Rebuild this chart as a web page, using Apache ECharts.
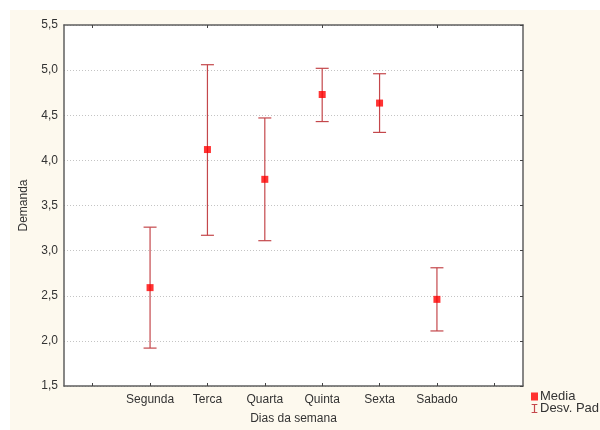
<!DOCTYPE html>
<html>
<head>
<meta charset="utf-8">
<script src="https://cdn.jsdelivr.net/npm/echarts@6/dist/echarts.min.js"></script>
<style>
html,body{margin:0;padding:0;background:#ffffff;}
#chart{position:absolute;left:10px;top:10px;width:590px;height:420px;background:#fdf9ee;}
</style>
</head>
<body>
<div id="chart"></div>
<script>
const days = ['Segunda', 'Terca', 'Quarta', 'Quinta', 'Sexta', 'Sabado'];
const means = [2.59, 4.12, 3.79, 4.73, 4.635, 2.46];
const lowerSD = [1.92, 3.17, 3.11, 4.43, 4.31, 2.11];
const upperSD = [3.26, 5.06, 4.47, 5.02, 4.96, 2.81];
const yTicks = [1.5, 2.0, 2.5, 3.0, 3.5, 4.0, 4.5, 5.0, 5.5];

const cats = [''].concat(days).concat(['']);
const meanData = ['-'].concat(means).concat(['-']);
const errData = days.map((d, i) => [i + 1, lowerSD[i], upperSD[i]]);

const FONT = 'Liberation Sans, Arial, sans-serif';
const AXIS_COLOR = '#5f5f5f';
const ERR_COLOR = '#c4474b';

const chart = echarts.init(document.getElementById('chart'), null, {renderer: 'canvas'});

function renderErr(params, api) {
  const x = api.value(0);
  const lo = api.coord([x, api.value(1)]);
  const hi = api.coord([x, api.value(2)]);
  const hw = 6.5;
  const style = {stroke: ERR_COLOR, lineWidth: 1.2, fill: null};
  return {
    type: 'group',
    children: [
      {type: 'line', shape: {x1: lo[0], y1: lo[1], x2: hi[0], y2: hi[1]}, style: style},
      {type: 'line', shape: {x1: lo[0] - hw, y1: lo[1], x2: lo[0] + hw, y2: lo[1]}, style: style},
      {type: 'line', shape: {x1: hi[0] - hw, y1: hi[1], x2: hi[0] + hw, y2: hi[1]}, style: style}
    ]
  };
}

const option = {
  animation: false,
  backgroundColor: 'transparent',
  textStyle: {fontFamily: FONT},
  grid: {left: 50, top: 15, width: 463, height: 365, show: true, backgroundColor: '#ffffff', borderWidth: 0},
  legend: {
    orient: 'vertical',
    left: 521,
    top: 380,
    itemGap: -1,
    itemWidth: 7,
    itemHeight: 8,
    padding: [0, 0, 0, 0],
    textStyle: {fontFamily: FONT, fontSize: 13, color: '#333333', padding: [0, 0, 0, -3]},
    data: [
      {name: 'Media', icon: 'rect', itemStyle: {color: '#ff0000'}},
      {name: 'Desv. Pad', icon: 'path://M0,0 L10,0 M5,0 L5,14 M0,14 L10,14', itemStyle: {color: 'transparent', borderColor: ERR_COLOR, borderWidth: 1.2}}
    ]
  },
  xAxis: [
    {
      type: 'category',
      data: cats,
      position: 'bottom',
      boundaryGap: true,
      name: 'Dias da semana',
      nameLocation: 'middle',
      nameGap: 27,
      nameTextStyle: {fontFamily: FONT, fontSize: 12, color: '#333333'},
      axisLine: {show: true, lineStyle: {color: AXIS_COLOR, width: 1.5}},
      axisTick: {show: true, inside: true, alignWithLabel: true, length: 3, lineStyle: {color: '#444444'}},
      axisLabel: {fontFamily: FONT, fontSize: 12, color: '#333333', margin: 8, interval: 0},
      splitLine: {show: false}
    },
    {
      type: 'category',
      data: cats,
      position: 'top',
      boundaryGap: true,
      axisLine: {show: true, lineStyle: {color: AXIS_COLOR, width: 1.5}},
      axisTick: {show: true, inside: true, alignWithLabel: true, length: 3, lineStyle: {color: '#444444'}},
      axisLabel: {show: false},
      splitLine: {show: false}
    }
  ],
  yAxis: [
    {
      type: 'value',
      min: 1.5,
      max: 5.5,
      interval: 0.5,
      position: 'left',
      name: 'Demanda',
      nameLocation: 'middle',
      nameGap: 34,
      nameRotate: 90,
      nameTextStyle: {fontFamily: FONT, fontSize: 12, color: '#333333'},
      axisLine: {show: true, lineStyle: {color: AXIS_COLOR, width: 1.5}},
      axisTick: {show: false},
      axisLabel: {fontFamily: FONT, fontSize: 12, color: '#333333', margin: 6,
        formatter: v => v.toFixed(1).replace('.', ',')},
      splitLine: {show: true, lineStyle: {color: '#c4c4c4', type: [1, 2], width: 1}}
    },
    {
      type: 'value',
      min: 1.5,
      max: 5.5,
      interval: 0.5,
      position: 'right',
      axisLine: {show: true, lineStyle: {color: AXIS_COLOR, width: 1.5}},
      axisTick: {show: true, inside: true, length: 3, lineStyle: {color: '#444444'}},
      axisLabel: {show: false},
      splitLine: {show: false}
    }
  ],
  series: [
    {
      name: 'Desv. Pad',
      type: 'custom',
      xAxisIndex: 0,
      yAxisIndex: 0,
      renderItem: renderErr,
      data: errData,
      encode: {x: 0, y: [1, 2]},
      itemStyle: {color: ERR_COLOR},
      z: 2
    },
    {
      name: 'Media',
      type: 'scatter',
      xAxisIndex: 0,
      yAxisIndex: 0,
      symbol: 'rect',
      symbolSize: 7,
      itemStyle: {color: '#ff0000'},
      data: meanData,
      z: 3
    }
  ]
};
chart.setOption(option);
</script>
</body>
</html>
